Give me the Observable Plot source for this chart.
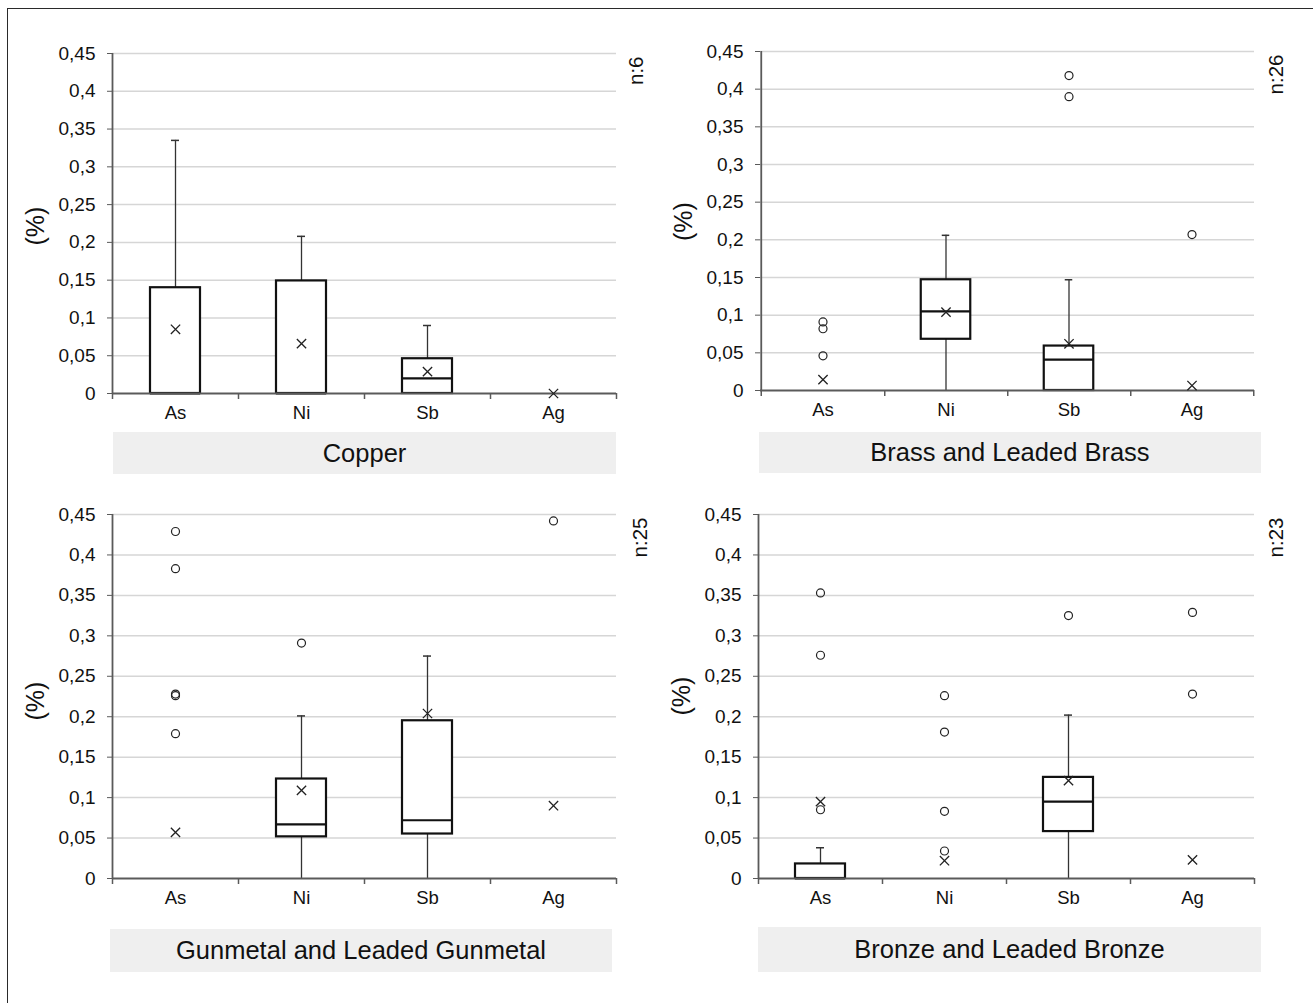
<!DOCTYPE html>
<html>
<head>
<meta charset="utf-8">
<script src="https://cdn.jsdelivr.net/npm/d3@7"></script>
<script src="https://cdn.jsdelivr.net/npm/@observablehq/plot@0.6"></script>
<style>
  body { margin: 0; background: #fff; font-family: "Liberation Sans", Arial, sans-serif; }
  #fig { position: relative; width: 1313px; height: 1003px; overflow: hidden; background: #fff; }
  #border { position: absolute; left: 7px; top: 8px; width: 1320px; height: 1010px;
            border-top: 1.5px solid #2a2a2a; border-left: 1.5px solid #2a2a2a; }
  .panel { position: absolute; }
  .title { position: absolute; background: #efefef; display: flex; align-items: center;
           justify-content: center; font-size: 25.5px; color: #111; }
</style>
</head>
<body>
<div id="fig"><div id="border"></div></div>
<script>
// Trace elements measured in each alloy group
const elements = ["As", "Ni", "Sb", "Ag"];
const yTicks = [0, 0.05, 0.1, 0.15, 0.2, 0.25, 0.3, 0.35, 0.4, 0.45];

// Box summaries per element: [lower whisker, Q1, median, Q3, upper whisker]; null = no box
const copperBoxes = [[0, 0, 0, 0.140, 0.335], [0, 0, 0, 0.149, 0.208], [0, 0, 0.020, 0.046, 0.090], null];
const copperMeans = [0.085, 0.066, 0.029, 0];
const copperOutliers = [[], [], [], []];

const brassBoxes = [null, [0, 0.068, 0.105, 0.147, 0.206], [0, 0, 0.041, 0.059, 0.147], null];
const brassMeans = [0.0145, 0.104, 0.062, 0.0066];
const brassOutliers = [[0.091, 0.082, 0.046], [], [0.418, 0.390], [0.207]];

const gunmetalBoxes = [null, [0, 0.0515, 0.067, 0.123, 0.201], [0, 0.055, 0.072, 0.195, 0.275], null];
const gunmetalMeans = [0.057, 0.109, 0.204, 0.090];
const gunmetalOutliers = [[0.429, 0.383, 0.228, 0.226, 0.179], [0.291], [], [0.442]];

const bronzeBoxes = [[0, 0, 0, 0.018, 0.038], null, [0, 0.058, 0.095, 0.125, 0.202], null];
const bronzeMeans = [0.095, 0.022, 0.121, 0.023];
const bronzeOutliers = [[0.353, 0.276, 0.085], [0.226, 0.181, 0.083, 0.034], [0.325], [0.329, 0.228]];

const titles = ["Copper", "Brass and Leaded Brass", "Gunmetal and Leaded Gunmetal", "Bronze and Leaded Bronze"];
const sampleCounts = [6, 26, 25, 23];

const panels = [
  {boxes: copperBoxes, means: copperMeans, outliers: copperOutliers,
   left: 0, top: 0, width: 656, height: 440, ml: 112, mr: 40, mt: 53, mb: 47, nDx: 12, pctDy: 22,
   titleBox: [113, 432, 503, 42]},
  {boxes: brassBoxes, means: brassMeans, outliers: brassOutliers,
   left: 650, top: 0, width: 656, height: 440, ml: 110, mr: 52, mt: 51, mb: 50, nDx: 14, pctDy: 20,
   titleBox: [759, 432, 502, 41]},
  {boxes: gunmetalBoxes, means: gunmetalMeans, outliers: gunmetalOutliers,
   left: 0, top: 480, width: 656, height: 440, ml: 112, mr: 40, mt: 34, mb: 42, nDx: 16, pctDy: 24,
   titleBox: [110, 929, 502, 43]},
  {boxes: bronzeBoxes, means: bronzeMeans, outliers: bronzeOutliers,
   left: 650, top: 480, width: 656, height: 440, ml: 108, mr: 52, mt: 34, mb: 42, nDx: 14, pctDy: 19,
   titleBox: [758, 927, 503, 45]}
];

const fmt = v => String(+v.toFixed(2)).replace(".", ",");
const fig = document.getElementById("fig");

panels.forEach((p, k) => {
  const bw = (p.width - p.ml - p.mr) / elements.length;
  const boxInset = (bw - 50) / 2;
  const capInset = (bw - 8) / 2;

  const boxes = elements.map((e, i) => p.boxes[i] && {
    element: e, lo: p.boxes[i][0], q1: p.boxes[i][1], median: p.boxes[i][2], q3: p.boxes[i][3], hi: p.boxes[i][4]
  }).filter(Boolean);
  const means = elements.map((e, i) => ({element: e, value: p.means[i]}));
  const outliers = elements.flatMap((e, i) => p.outliers[i].map(v => ({element: e, value: v})));

  const axisColor = "#5a5a5a";
  const chart = Plot.plot({
    width: p.width,
    height: p.height,
    marginLeft: p.ml,
    marginRight: p.mr,
    marginTop: p.mt,
    marginBottom: p.mb,
    style: {fontFamily: "'Liberation Sans', Arial, sans-serif", fontSize: "19px", color: "#111", background: "transparent", overflow: "visible"},
    x: {domain: elements, padding: 0},
    y: {domain: [0, 0.45]},
    marks: [
      Plot.gridY(yTicks.filter(t => t > 0), {stroke: "#d6d6d6", strokeOpacity: 1, strokeWidth: 1.5}),
      // whiskers
      Plot.ruleX(boxes.filter(d => d.hi > d.q3), {x: "element", y1: "q3", y2: "hi", stroke: "#333", strokeWidth: 1.3}),
      Plot.ruleX(boxes.filter(d => d.q1 > d.lo), {x: "element", y1: "lo", y2: "q1", stroke: "#333", strokeWidth: 1.3}),
      Plot.tickY(boxes.filter(d => d.hi > d.q3), {x: "element", y: "hi", insetLeft: capInset, insetRight: capInset, stroke: "#333", strokeWidth: 1.5}),
      // boxes and medians
      Plot.barY(boxes, {x: "element", y1: "q1", y2: "q3", fill: "white", stroke: "#111", strokeWidth: 2.2, insetLeft: boxInset, insetRight: boxInset}),
      Plot.tickY(boxes, {x: "element", y: "median", insetLeft: boxInset, insetRight: boxInset, stroke: "#111", strokeWidth: 2.2}),
      // axis lines and category boundary ticks
      Plot.ruleY([0], {stroke: axisColor, strokeWidth: 1.8}),
      Plot.ruleX([elements[0]], {x: d => d, dx: -bw / 2, stroke: axisColor, strokeWidth: 1.8}),
      Plot.ruleX([elements[0]], {x: d => d, dx: -bw / 2, y1: 0, y2: 0, insetBottom: -6, stroke: axisColor, strokeWidth: 1.5}),
      Plot.ruleX(elements, {x: d => d, dx: bw / 2, y1: 0, y2: 0, insetBottom: -6, stroke: axisColor, strokeWidth: 1.5}),
      Plot.axisY(yTicks, {tickSize: 5, tickPadding: 12, tickFormat: fmt, label: null, stroke: axisColor, fontSize: 19}),
      Plot.axisX({tickSize: 0, tickPadding: 12, label: null, fontSize: 18.5}),
      // outliers and means
      Plot.dot(outliers, {x: "element", y: "value", r: 4, stroke: "#222", fill: "none", strokeWidth: 1.2}),
      Plot.dot(means, {x: "element", y: "value", symbol: "times", r: 4.3, stroke: "#222", strokeWidth: 1.3}),
      Plot.text(["(%)"], {frameAnchor: "left", rotate: -90, dx: -77, dy: p.pctDy, fontSize: 25, fill: "#111"}),
      Plot.text([`n:${sampleCounts[k]}`], {frameAnchor: "top-right", rotate: -90, textAnchor: "end", dx: p.nDx, dy: 3, fontSize: 20.5, fill: "#111"})
    ]
  });

  const wrap = document.createElement("div");
  wrap.className = "panel";
  wrap.style.left = p.left + "px";
  wrap.style.top = p.top + "px";
  wrap.appendChild(chart);
  fig.appendChild(wrap);

  const [tx, ty, tw, th] = p.titleBox;
  const t = document.createElement("div");
  t.className = "title";
  t.style.left = tx + "px";
  t.style.top = ty + "px";
  t.style.width = tw + "px";
  t.style.height = th + "px";
  t.textContent = titles[k];
  fig.appendChild(t);
});
</script>
</body>
</html>
